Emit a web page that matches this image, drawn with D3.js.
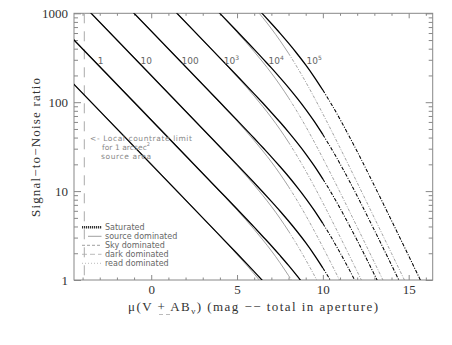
<!DOCTYPE html>
<html>
<head>
<meta charset="utf-8">
<script src="https://d3js.org/d3.v7.min.js"></script>
<style>
  body { margin: 0; background: #fff; }
  .tick text { font-family: "Liberation Serif", serif; font-size: 13px; fill: #333; }
</style>
</head>
<body>
<div id="chart"></div>
<script>
var svgWidth = 452;
var svgHeight = 345;

// plot frame in pixels
var plot = { left: 74, right: 432.7, top: 13.3, bottom: 280 };

// axis ranges and ticks
var magRange = [-4.5, 16.4];
var snRange = [1, 1000];
var xMajor = [0, 5, 10, 15];
var xMinor = [-4, -3, -2, -1, 1, 2, 3, 4, 6, 7, 8, 9, 11, 12, 13, 14, 16];
var yMajor = [1, 10, 100, 1000];

// curve labels (exposure) and where they sit
var familyLabels = ["1", "10", "100", "10|3", "10|4", "10|5"];
var labelMag = [-3.12, -0.63, 1.77, 4.23, 6.83, 9.05];
var labelSN = 300;

// magnitude where the sky starts to dominate (line style changes)
var thickSkyMag = 10.0;
var thinSkyMag = 8.0;

// local countrate limit (vertical dashed line)
var limitMag = -3.9;

// thick curves: [mag, S/N]
var thick_t01 = [[-5,199.5],[4,3.155],[5,1.985],[6,1.241],[6.5,0.978],[7,0.767]];
var thick_t1 = [[-5,631],[4,9.98],[5,6.28],[6,3.93],[6.5,3.09],[7,2.43],[7.5,1.89],[8,1.46],[8.5,1.11],[9,0.830],[9.5,0.607]];
var thick_t10 = [[-4,1259],[4,31.55],[5,19.85],[6,12.41],[6.5,9.78],[7,7.67],[7.5,5.98],[8,4.61],[8.5,3.51],[9,2.63],[9.5,1.92],[10,1.367],[10.5,0.949],[11,0.643]];
var thick_t100 = [[-1.5,1259],[4,99.8],[5,62.8],[6,39.3],[6.5,30.9],[7,24.3],[7.5,18.9],[8,14.6],[8.5,11.1],[9,8.30],[9.5,6.07],[10,4.32],[10.5,3.00],[11,2.03],[11.5,1.348],[12,0.881]];
var thick_t1e3 = [[1,1259],[4,315.5],[5,198.4],[6,124.1],[6.5,97.8],[7,76.7],[7.5,59.8],[8,46.1],[8.5,35.1],[9,26.3],[9.5,19.2],[10,13.67],[10.5,9.49],[11,6.43],[11.5,4.26],[12,2.79],[13,1.152],[14,0.466]];
var thick_t1e4 = [[3.5,1257],[4,998],[5,628],[6,393],[6.5,309],[7,243],[7.5,189],[8,146],[8.5,111],[9,83.0],[9.5,60.7],[10,43.2],[10.5,30.0],[11,20.3],[11.5,13.5],[12,8.81],[13,3.64],[14,1.475],[15,0.591]];
var thick_t1e5 = [[6,1241],[6.5,978],[7,767],[7.5,598],[8,461],[8.5,351],[9,263],[9.5,192],[10,136.7],[10.5,94.9],[11,64.3],[11.5,42.6],[12,27.9],[13,11.52],[14,4.66],[15,1.87],[16,0.746]];

// thin grey curves: [mag, S/N]
var thin_t01 = [[-5,199.5],[4,3.123],[5,1.936],[6,1.170],[6.5,0.894],[7,0.672]];
var thin_t1 = [[-5,631],[4,9.88],[5,6.12],[6,3.70],[6.5,2.83],[7,2.13],[7.5,1.564],[8,1.122],[8.5,0.784],[9,0.535]];
var thin_t10 = [[-4,1259],[4,31.23],[5,19.36],[6,11.70],[6.5,8.94],[7,6.72],[7.5,4.95],[8,3.55],[8.5,2.48],[9,1.690],[9.5,1.128],[10,0.739]];
var thin_t100 = [[-1.5,1259],[4,98.8],[5,61.2],[6,37.0],[6.5,28.3],[7,21.3],[7.5,15.64],[8,11.22],[8.5,7.84],[9,5.35],[9.5,3.57],[10,2.34],[11,0.972]];
var thin_t1e3 = [[1,1259],[4,312.3],[5,193.6],[6,117.0],[6.5,89.4],[7,67.2],[7.5,49.5],[8,35.5],[8.5,24.8],[9,16.90],[9.5,11.28],[10,7.39],[11,3.07],[12,1.246],[13,0.500]];
var thin_t1e4 = [[3.5,1249],[4,988],[5,612],[6,370],[6.5,283],[7,212.6],[7.5,156.4],[8,112.2],[8.5,78.4],[9,53.5],[9.5,35.7],[10,23.4],[11,9.72],[12,3.94],[13,1.581],[14,0.631]];
var thin_t1e5 = [[6,1170],[6.5,894],[7,672],[7.5,494.5],[8,354.8],[8.5,247.9],[9,169.0],[9.5,112.8],[10,73.9],[11,30.7],[12,12.46],[13,5.00],[14,1.996],[15,0.796]];

var thickCurves = [thick_t01, thick_t1, thick_t10, thick_t100, thick_t1e3, thick_t1e4, thick_t1e5];
var thinCurves = [thin_t01, thin_t1, thin_t10, thin_t100, thin_t1e3, thin_t1e4, thin_t1e5];

var legendLabels = ["Saturated", "source dominated", "Sky dominated", "dark dominated", "read dominated"];
var noteLines = ["<- Local countrate limit", "for 1 arcsec|2", "source area"];

var svg = d3.select("#chart")
  .append("svg")
  .attr("width", svgWidth)
  .attr("height", svgHeight)
  .style("display", "block");

svg.append("rect").attr("width", svgWidth).attr("height", svgHeight).attr("fill", "#fff");

var x = d3.scaleLinear().domain(magRange).range([plot.left, plot.right]);
var y = d3.scaleLog().domain(snRange).range([plot.bottom, plot.top]);
var yMinor = y.ticks().filter(d => yMajor.indexOf(d) < 0);

// axes, ticks point inward
function axisGroup(axis, tx, ty) {
  var g = svg.append("g").attr("transform", `translate(${tx},${ty})`).call(axis);
  g.select(".domain").remove();
  g.selectAll(".tick line").attr("stroke", "#888");
  return g;
}
axisGroup(d3.axisBottom(x).tickValues(xMajor).tickSizeInner(-5).tickPadding(5).tickFormat(d3.format("d")), 0, plot.bottom);
axisGroup(d3.axisBottom(x).tickValues(xMinor).tickSizeInner(-2.5).tickFormat(""), 0, plot.bottom);
axisGroup(d3.axisTop(x).tickValues(xMajor).tickSizeInner(-5).tickFormat(""), 0, plot.top);
axisGroup(d3.axisTop(x).tickValues(xMinor).tickSizeInner(-2.5).tickFormat(""), 0, plot.top);
axisGroup(d3.axisLeft(y).tickValues(yMajor).tickSizeInner(-7).tickPadding(6).tickFormat(d3.format("d")), plot.left, 0);
axisGroup(d3.axisLeft(y).tickValues(yMinor).tickSizeInner(-4).tickFormat(""), plot.left, 0);
axisGroup(d3.axisRight(y).tickValues(yMajor).tickSizeInner(-7).tickFormat(""), plot.right, 0);
axisGroup(d3.axisRight(y).tickValues(yMinor).tickSizeInner(-4).tickFormat(""), plot.right, 0);

svg.append("rect")
  .attr("x", plot.left).attr("y", plot.top)
  .attr("width", plot.right - plot.left).attr("height", plot.bottom - plot.top)
  .attr("fill", "none").attr("stroke", "#888").attr("stroke-width", 1);

svg.append("clipPath").attr("id", "clip")
  .append("rect")
  .attr("x", plot.left).attr("y", plot.top)
  .attr("width", plot.right - plot.left).attr("height", plot.bottom - plot.top);

var chartGroup = svg.append("g").attr("clip-path", "url(#clip)");

// vertical countrate limit
chartGroup.append("line")
  .attr("x1", x(limitMag)).attr("x2", x(limitMag))
  .attr("y1", y(snRange[1])).attr("y2", y(snRange[0]))
  .attr("stroke", "#aaa").attr("stroke-width", 1).attr("stroke-dasharray", "10,8");

var line = d3.line()
  .x(d => x(d[0]))
  .y(d => y(d[1]))
  .curve(d3.curveMonotoneX);

function drawCurve(pts, skyMag, color, width, faintWidth, dash) {
  var bright = pts.filter(d => d[0] <= skyMag);
  var faint = pts.filter(d => d[0] >= skyMag);
  if (bright.length > 1) {
    chartGroup.append("path").datum(bright).attr("d", line)
      .attr("fill", "none").attr("stroke", color).attr("stroke-width", width);
  }
  if (faint.length > 1) {
    chartGroup.append("path").datum(faint).attr("d", line)
      .attr("fill", "none").attr("stroke", color).attr("stroke-width", faintWidth)
      .attr("stroke-dasharray", dash);
  }
}

thinCurves.forEach(c => drawCurve(c, thinSkyMag, "#8a8a8a", 0.8, 0.8, "3,1.5,1,1.5"));
thickCurves.forEach(c => drawCurve(c, thickSkyMag, "#000", 1.3, 1.05, "3.5,1.5,1,1.5"));

// exposure labels
function addSup(sel, str, supSize) {
  var parts = str.split("|");
  sel.append("tspan").text(parts[0]);
  if (parts.length > 1) {
    sel.append("tspan").attr("dy", -3.5).attr("font-size", supSize).text(parts[1]);
  }
}
familyLabels.forEach(function(lab, i) {
  var t = svg.append("text")
    .attr("x", x(labelMag[i])).attr("y", y(labelSN) + 4)
    .attr("font-family", "DejaVu Sans, sans-serif").attr("font-size", 9)
    .attr("fill", "#666");
  addSup(t, lab, 6);
});

// note next to the limit line
var noteX = [90, 102, 101];
var noteY = [140.5, 149.5, 158.5];
var noteW = [102, 48, 50];
noteLines.forEach(function(s, i) {
  var t = svg.append("text")
    .attr("x", noteX[i]).attr("y", noteY[i])
    .attr("font-family", "DejaVu Sans, sans-serif").attr("font-size", 7.5)
    .attr("fill", "#888")
    .attr("textLength", noteW[i]).attr("lengthAdjust", "spacing");
  addSup(t, s, 5);
});

// legend
var legendStyles = [
  { color: "#333", width: 2.4, dash: "1.2,0.8", x1: 82 },
  { color: "#888", width: 0.8, dash: null, x1: 88 },
  { color: "#888", width: 0.8, dash: "3,2", x1: 82 },
  { color: "#aaa", width: 0.8, dash: "5,3", x1: 82 },
  { color: "#aaa", width: 0.8, dash: "1,2", x1: 82 }
];
legendLabels.forEach(function(lab, i) {
  var ly = 227.3 + i * 9;
  var st = legendStyles[i];
  svg.append("line")
    .attr("x1", st.x1).attr("x2", 101.5).attr("y1", ly).attr("y2", ly)
    .attr("stroke", st.color).attr("stroke-width", st.width)
    .attr("stroke-dasharray", st.dash);
  svg.append("text")
    .attr("x", 105).attr("y", ly + 3)
    .attr("font-family", "DejaVu Sans, sans-serif").attr("font-size", 8)
    .attr("fill", "#666")
    .text(lab);
});

// axis titles
var xTitle = svg.append("text")
  .attr("x", 128).attr("y", 311)
  .attr("font-family", "Liberation Serif, serif").attr("font-size", 13)
  .attr("fill", "#333")
  .attr("textLength", 250).attr("lengthAdjust", "spacing");
xTitle.append("tspan").text("\u03bc(V + AB");
xTitle.append("tspan").attr("dy", 3).attr("font-size", 9).text("\u03bd");
xTitle.append("tspan").attr("dy", -3).text(") (mag \u2212\u2212 total in aperture)");

svg.append("line").attr("x1", 159).attr("x2", 163).attr("y1", 314.5).attr("y2", 314.5)
  .attr("stroke", "#aaa").attr("stroke-width", 0.8);
svg.append("line").attr("x1", 166).attr("x2", 170).attr("y1", 314.5).attr("y2", 314.5)
  .attr("stroke", "#aaa").attr("stroke-width", 0.8);

svg.append("text")
  .attr("transform", "translate(40,147.5) rotate(-90)")
  .attr("text-anchor", "middle")
  .attr("font-family", "Liberation Serif, serif").attr("font-size", 13)
  .attr("fill", "#333")
  .attr("textLength", 139).attr("lengthAdjust", "spacing")
  .text("Signal\u2212to\u2212Noise ratio");
</script>
</body>
</html>
